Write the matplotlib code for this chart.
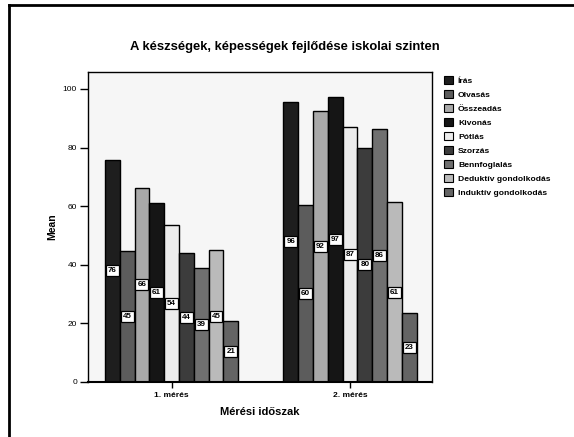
import matplotlib
matplotlib.use("Agg")
import matplotlib.pyplot as plt
from matplotlib.lines import Line2D
from matplotlib.patches import Patch
import numpy as np

plt.rcParams['font.family'] = ['Liberation Sans', 'DejaVu Sans']

groups = ["1. mérés", "2. mérés"]
series = ["Írás", "Olvasás", "Összeadás", "Kivonás", "Pótlás", "Szorzás",
          "Bennfoglalás", "Deduktív gondolkodás", "Induktív gondolkodás"]
values_1 = [75.8, 44.8, 66.3, 61.1, 53.6, 44.0, 39.0, 45.0, 20.8]
values_2 = [95.6, 60.4, 92.4, 97.3, 87.0, 80.0, 86.4, 61.4, 23.4]
colors = ["#1e1e1e", "#5c5c5c", "#a9a9a9", "#151515", "#ececec",
          "#3c3c3c", "#707070", "#bababa", "#646464"]
yticks = [0, 20, 40, 60, 80, 100]

W, H = 574, 437
fig = plt.figure(figsize=(W / 100, H / 100), dpi=100)
ax = fig.add_axes([88 / W, 1 - 382 / H, (432 - 88) / W, (382 - 72) / H])
ax.set_facecolor("#f6f6f6")

x = np.arange(len(groups))
w = 0.083
data = np.array([values_1, values_2])
for i, name in enumerate(series):
    xs = x + (i - (len(series) - 1) / 2) * w
    vals = data[:, i]
    ax.bar(xs, vals, width=w, color=colors[i], edgecolor="black", linewidth=1.0,
           label=name, zorder=2)
    for xx, v in zip(xs, vals):
        ax.text(xx, v / 2, f"{round(v):d}", ha="center", va="center",
                fontsize=5.8, fontweight="bold", zorder=4,
                bbox=dict(boxstyle="square,pad=0.25", fc="white", ec="black", lw=0.9))

ax.set_xlim(-0.468, 1.459)
ax.set_ylim(0, 105.8)
ax.set_yticks(yticks)
ax.set_yticklabels([str(t) for t in yticks], fontsize=6)
ax.set_xticks(x)
ax.set_xticklabels(groups, fontsize=6, fontweight="bold")
ax.tick_params(axis="y", length=6, width=1, direction="out", pad=2)
ax.tick_params(axis="x", length=4, width=1, direction="out", pad=3)
for s in ax.spines.values():
    s.set_linewidth(1.0)
ax.spines["bottom"].set_linewidth(1.5)

ax.set_ylabel("Mean", fontsize=7.5, fontweight="bold", labelpad=4)
ax.set_xlabel("Mérési időszak", fontsize=8, fontweight="bold", labelpad=6)
fig.text(0.497, 1 - 47 / H, "A készségek, képességek fejlődése iskolai szinten",
         ha="center", va="center", fontsize=9.4, fontweight="bold")

handles = [Patch(facecolor=c, edgecolor="black", linewidth=0.8) for c in colors]
fig.legend(handles, series, loc="upper left", bbox_to_anchor=(441 / W, 1 - 73 / H),
           frameon=False, handlelength=1.0, handleheight=1.0,
           handletextpad=0.6, labelspacing=0.62, borderaxespad=0,
           prop=dict(weight="bold", size=6.1))

fig.add_artist(Line2D([9 / W, 1], [1 - 5 / H, 1 - 5 / H], color="black", lw=2,
                      transform=fig.transFigure))
fig.add_artist(Line2D([9 / W, 9 / W], [0, 1 - 5 / H], color="black", lw=2,
                      transform=fig.transFigure))

fig.savefig("out.png", dpi=100)
